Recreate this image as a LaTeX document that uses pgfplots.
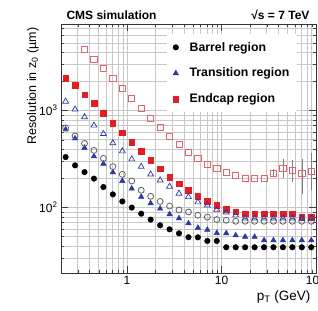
\documentclass[border=0pt]{standalone}
\usepackage{pgfplots}
\pgfplotsset{compat=1.18}
\usepackage{pgfplotstable}
\usepackage{fontspec}
\setmainfont{Liberation Sans}
\definecolor{cmsred}{RGB}{228,28,36}
\definecolor{cmspink}{RGB}{228,100,110}
\definecolor{cmsblue}{RGB}{45,55,165}
\definecolor{cmsgray}{RGB}{95,95,95}
\definecolor{gridc}{RGB}{200,200,200}

\pgfplotstableread{
x b t e bo to eo
0.2239 330 637 2140 660 1238 nan
0.2818 271 514 1810 546 1024 nan
0.3548 231 412 1460 457 853 4256
0.4467 198 336 1180 387 700 3357
0.5623 162 282 931 320 573 2699
0.7079 136 230 743 263 460 2159
0.8913 115 187 590 219 380 1683
1.122 99.4 156 468 187 314 1327
1.413 86 128 378 150 263 1046
1.778 74.7 110 305 130 219 835
2.239 65.2 97 250 115 190 665
2.818 59.3 84.8 204 103 164 542
3.548 53.9 77 176 94 139 448
4.467 49.1 68.4 151 89.5 128 369
5.623 49 61.5 131 82.8 113 322
7.079 45 58.6 115 79.4 105 280
8.913 45 54.3 105 74.7 95 254
11.22 38.7 54 96 73.5 89 231
14.13 38.7 51.4 90 71.8 83 214
17.78 38.7 49.6 86 71.8 77 198
22.39 38.7 49.6 86 71.8 77 198
28.18 38.7 45.7 86 71.8 77 198
35.48 38.7 45.7 86 71.8 77 226
44.67 38.7 45.7 86 71.8 77 251
56.23 38.7 45.7 86 71.8 77 241
70.79 38.7 45.7 79.4 71.8 77 222
89.13 38.7 45.7 79.4 71.8 77 235
}\data

\begin{document}
\begin{tikzpicture}
\begin{axis}[name=ax, scale only axis, width=255pt, height=249pt,
  xmode=log, ymode=log, xmin=0.2, xmax=100, ymin=21, ymax=7800,
  xtick={1,10,100}, xticklabels={1,10,100},
  ytick={100,1000}, yticklabels={10\textsuperscript{2},10\textsuperscript{3}},
  minor xtick={0.3,0.4,0.5,0.6,0.7,0.8,0.9,2,3,4,5,6,7,8,9,20,30,40,50,60,70,80,90},
  minor ytick={30,40,50,60,70,80,90,200,300,400,500,600,700,800,900,2000,3000,4000,5000,6000,7000},
  grid=both, major grid style={gridc, thin}, minor grid style={gridc, thin},
  tick align=inside, major tick length=7pt, minor tick length=3.5pt,
  axis line style={black!80}, tick style={black!75},
  ticklabel style={font=\fontsize{12}{14}\selectfont},
  legend style={at={(0.415,0.96)}, anchor=north west, draw=none, fill=white,
    font=\bfseries\fontsize{12.3}{14}\selectfont, row sep=11.5pt, inner xsep=6pt, inner ysep=6pt,
    /tikz/every odd column/.append style={column sep=9pt}},
  legend cell align=left,
]
\addplot[only marks, mark=*, black, mark size=2.8pt] table[x=x,y=b]{\data};
\addlegendentry{Barrel region}
\addplot[only marks, mark=triangle*, cmsblue, mark size=3.2pt] table[x=x,y=t]{\data};
\addlegendentry{Transition region}
\addplot[only marks, mark=square*, cmsred, mark size=2.8pt] table[x=x,y=e]{\data};
\addlegendentry{Endcap region}
\addplot[only marks, forget plot, mark=o, cmsgray, mark size=3pt, mark options={line width=0.8pt}] table[x=x,y=bo]{\data};
\addplot[only marks, forget plot, mark=triangle, cmsblue, mark size=3.4pt, mark options={line width=0.7pt}] table[x=x,y=to]{\data};
\addplot[forget plot, draw=none, mark=none, error bars/.cd, y dir=both, y explicit, error mark=none,
  error bar style={gray, line width=0.6pt}] coordinates {
  (35.48,226) += (0,20) -= (0,18)
  (44.67,251) += (0,66) -= (0,52)
  (56.23,241) += (0,64) -= (0,60)
  (70.79,222) += (0,96) -= (0,84)
  (89.13,235) += (0,125) -= (0,85)
};
\addplot[only marks, forget plot, mark=square, cmspink, mark size=3.1pt, mark options={line width=0.8pt, fill=white}] table[x=x,y=eo]{\data};
\end{axis}
\node[anchor=base west, font=\bfseries\fontsize{12}{14}\selectfont] at ([xshift=2pt,yshift=5pt]ax.north west) {CMS simulation};
\node[anchor=base east, font=\bfseries\fontsize{12}{14}\selectfont] at ([xshift=-3pt,yshift=5pt]ax.north east) {√s = 7 TeV};
\node[rotate=90, anchor=base east, font=\fontsize{12.5}{14}\selectfont] at ([xshift=-25pt]ax.north west) {Resolution in z\textsubscript{0} (µm)};
\node[anchor=base east, font=\fontsize{13.5}{15}\selectfont] at ([xshift=-2pt,yshift=-27pt]ax.south east) {p\textsubscript{T} (GeV)};
\pgfresetboundingbox
\useasboundingbox ([xshift=-61pt,yshift=-37pt]ax.south west) rectangle ([xshift=2pt,yshift=24pt]ax.north east);
\end{tikzpicture}
\end{document}
